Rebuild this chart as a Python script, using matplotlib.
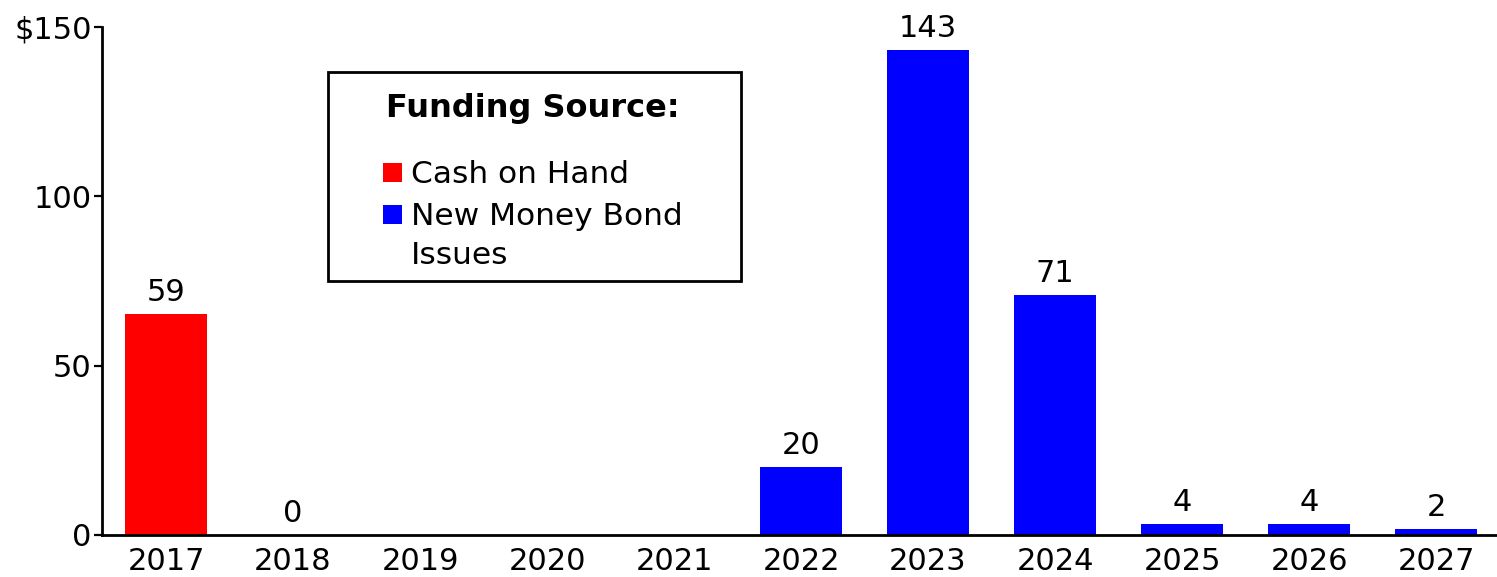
import matplotlib
matplotlib.use("Agg")
import matplotlib.pyplot as plt
from matplotlib.patches import Rectangle

# ---- data ----
years = ["2017", "2018", "2019", "2020", "2021", "2022", "2023", "2024", "2025", "2026", "2027"]
values = [65.3, 0, 0, 0, 0, 20.1, 143.2, 70.9, 3.2, 3.2, 1.7]
value_labels = ["59", "0", "", "", "", "20", "143", "71", "4", "4", "2"]
sources = ["cash", "bond", "bond", "bond", "bond", "bond", "bond", "bond", "bond", "bond", "bond"]
y_ticks = [0, 50, 100, 150]
y_tick_labels = ["0", "50", "100", "$150"]
legend_title = "Funding Source:"
legend_labels = ["Cash on Hand", "New Money Bond\nIssues"]
colors = {"cash": "#FF0000", "bond": "#0000FF"}

W, H = 1497, 577
FS = 22
FS_LEG = 22.5
FS_TITLE = 23
plt.rcParams["font.family"] = ["DejaVu Sans"]

fig = plt.figure(figsize=(W / 100, H / 100), dpi=100)
ax = fig.add_axes([102 / W, 42 / H, (W - 102) / W, 508 / H])

x = list(range(len(years)))
bar_colors = [colors[s] for s in sources]
ax.bar(x, values, width=0.646, color=bar_colors, linewidth=0, zorder=2)

for xi, v, lab in zip(x, values, value_labels):
    if lab:
        ax.annotate(lab, (xi, v), xytext=(0, 5), textcoords="offset points",
                    ha="center", va="bottom", fontsize=FS, color="black")

ax.set_xlim(-0.504, 10.48)
ax.set_ylim(0, 150)
ax.set_xticks(x)
ax.set_xticklabels(years, fontsize=FS)
ax.set_yticks(y_ticks)
ax.set_yticklabels(y_tick_labels, fontsize=FS)
ax.tick_params(axis="x", length=0, pad=9)
ax.tick_params(axis="y", length=6, width=1.6, pad=1.5, direction="out")
for s in ["top", "right"]:
    ax.spines[s].set_visible(False)
for s in ["left", "bottom"]:
    ax.spines[s].set_linewidth(2.0)
    ax.spines[s].set_capstyle("projecting")
ax.patch.set_visible(False)

# ---- legend (manual, positioned in figure pixels) ----
def px(xp, yp):
    return xp / W, 1 - yp / H

bx0, by0 = px(328, 281)
bx1, by1 = px(741, 72)
fig.patches.append(Rectangle((bx0, by0), bx1 - bx0, by1 - by0, transform=fig.transFigure,
                             facecolor="white", edgecolor="black", linewidth=2.0, zorder=5))
tx, ty = px(386, 117)
fig.text(tx, ty, legend_title, fontsize=FS_TITLE, fontweight="bold", ha="left", va="baseline", zorder=6)

rows = [(183, 163), (225, 205)]
for (base, sq_top), lab, key in zip(rows, legend_labels, ["cash", "bond"]):
    sx0, sy0 = px(383, sq_top + 19)
    sx1, sy1 = px(402, sq_top)
    fig.patches.append(Rectangle((sx0, sy0), sx1 - sx0, sy1 - sy0, transform=fig.transFigure,
                                 facecolor=colors[key], edgecolor="none", zorder=6))
    lines = lab.split("\n")
    for k, line in enumerate(lines):
        lx, ly = px(411, base + 39 * k)
        fig.text(lx, ly, line, fontsize=FS_LEG, ha="left", va="baseline", zorder=6)

fig.savefig("out.png", dpi=100)
